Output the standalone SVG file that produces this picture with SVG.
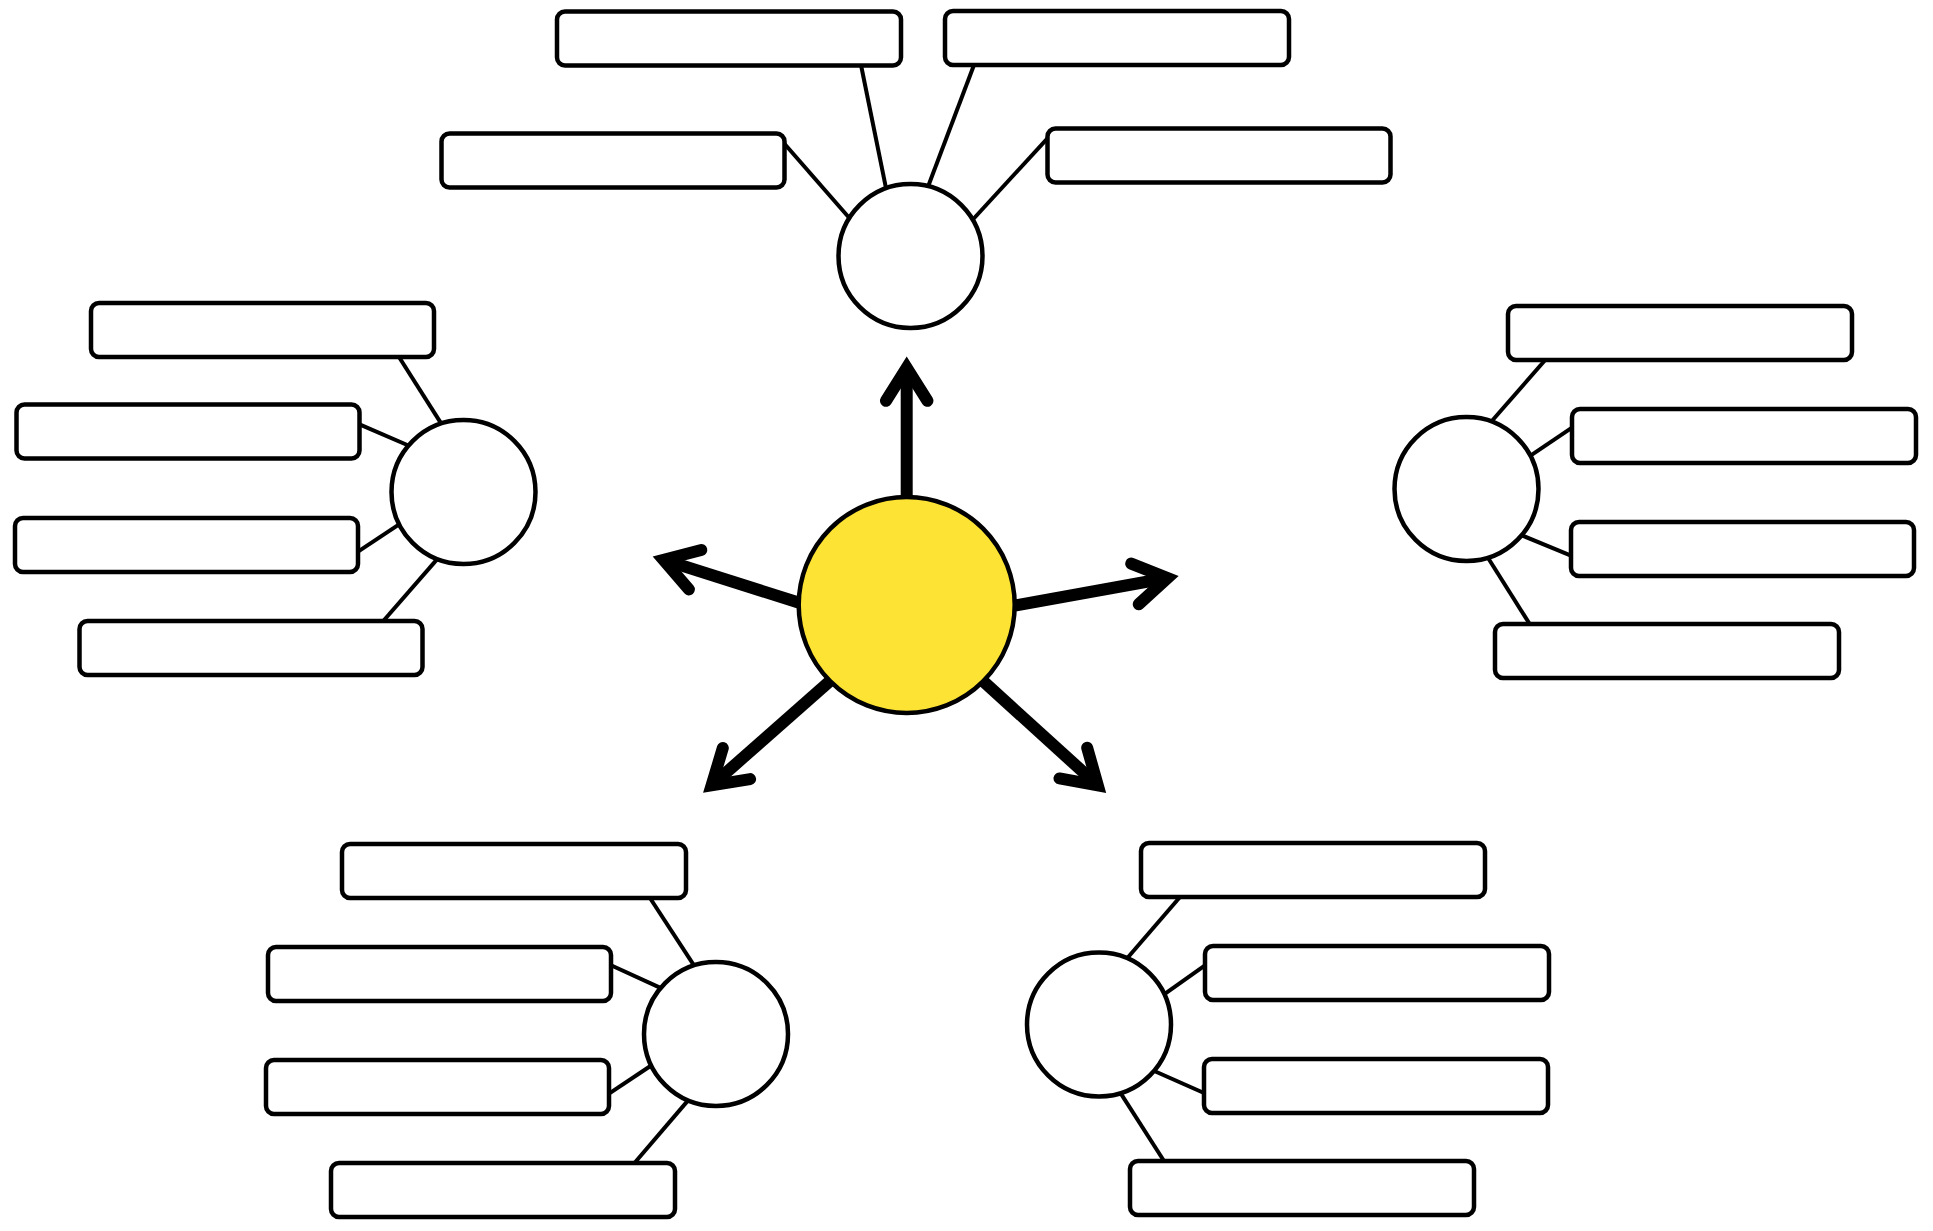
<svg xmlns="http://www.w3.org/2000/svg" width="1933" height="1231" viewBox="0 0 1933 1231">
<style>
.box{fill:#fff;stroke:#000;stroke-width:4.5}
.sat{fill:#fff;stroke:#000;stroke-width:4.5}
.hub{fill:#FDE333;stroke:#000;stroke-width:4.5}
.link{stroke:#000;stroke-width:4;fill:none;stroke-linecap:butt}
.shaft{stroke:#000;stroke-width:12;fill:none;stroke-linecap:butt}
.head{stroke:#000;stroke-width:12;fill:none;stroke-linecap:round;stroke-linejoin:miter;stroke-miterlimit:6}
</style>
<rect x="0" y="0" width="1933" height="1231" fill="#fff"/>
<g id="connectors">
  <line class="shaft" x1="906.7" y1="500" x2="906.7" y2="368"/>
  <polyline class="head" points="886,400.8 906.7,367.7 927.4,400.8"/>
  <line class="shaft" x1="1012" y1="606" x2="1167.5" y2="578"/>
  <polyline class="head" points="1131.2,563.6 1167.5,578 1138.7,604.3"/>
  <line class="shaft" x1="983" y1="681" x2="1097.8" y2="785.3"/>
  <polyline class="head" points="1087.2,747.8 1097.8,785.3 1059.5,778.4"/>
  <line class="shaft" x1="830" y1="681" x2="711.6" y2="785.4"/>
  <polyline class="head" points="750.1,779.1 711.6,785.4 722.8,748.1"/>
  <line class="shaft" x1="800" y1="603" x2="663.5" y2="559.8"/>
  <polyline class="head" points="688.9,589.4 663.5,559.8 701.3,550"/>
  <line class="link" x1="861" y1="65" x2="886" y2="188.2"/>
  <line class="link" x1="974" y1="65" x2="927.5" y2="188"/>
  <line class="link" x1="784" y1="143.3" x2="850" y2="218.7"/>
  <line class="link" x1="1047.5" y1="138.3" x2="970.6" y2="222"/>
  <line class="link" x1="399" y1="357" x2="442.7" y2="425.9"/>
  <line class="link" x1="359.5" y1="424.3" x2="411.9" y2="447"/>
  <line class="link" x1="358" y1="551.7" x2="402.5" y2="522.2"/>
  <line class="link" x1="383.3" y1="621" x2="438.3" y2="557.9"/>
  <line class="link" x1="1545.2" y1="360" x2="1490.1" y2="423"/>
  <line class="link" x1="1572" y1="427.7" x2="1527.2" y2="457.8"/>
  <line class="link" x1="1571" y1="555.7" x2="1516.4" y2="533.1"/>
  <line class="link" x1="1529.7" y1="624" x2="1485.6" y2="554"/>
  <line class="link" x1="650" y1="898" x2="695.1" y2="967.2"/>
  <line class="link" x1="611" y1="965.3" x2="663.2" y2="989.1"/>
  <line class="link" x1="609" y1="1093.7" x2="654.2" y2="1063.5"/>
  <line class="link" x1="634.5" y1="1163" x2="688.5" y2="1099.9"/>
  <line class="link" x1="1180" y1="897" x2="1125" y2="960.8"/>
  <line class="link" x1="1205" y1="965.3" x2="1160.9" y2="996.6"/>
  <line class="link" x1="1204" y1="1093" x2="1152" y2="1070"/>
  <line class="link" x1="1164" y1="1161" x2="1119.3" y2="1091.1"/>
</g>
<g id="hub"><circle class="hub" cx="906.7" cy="605" r="108"/></g>
<g id="top"><circle class="sat" cx="910.5" cy="256" r="72"/></g>
<g id="top-box1"><rect class="box" x="557" y="11.5" width="344" height="54" rx="8"/></g>
<g id="top-box2"><rect class="box" x="945" y="11" width="344" height="54" rx="8"/></g>
<g id="top-box3"><rect class="box" x="441.5" y="133.5" width="343" height="54" rx="8"/></g>
<g id="top-box4"><rect class="box" x="1047.5" y="128.5" width="343" height="54" rx="8"/></g>
<g id="left"><circle class="sat" cx="463.5" cy="492" r="72"/></g>
<g id="left-box1"><rect class="box" x="91" y="303" width="343" height="54" rx="8"/></g>
<g id="left-box2"><rect class="box" x="16.5" y="404.5" width="343" height="54" rx="8"/></g>
<g id="left-box3"><rect class="box" x="15" y="518" width="343" height="54" rx="8"/></g>
<g id="left-box4"><rect class="box" x="79.5" y="621" width="343" height="54" rx="8"/></g>
<g id="right"><circle class="sat" cx="1466.5" cy="489" r="72"/></g>
<g id="right-box1"><rect class="box" x="1508" y="306" width="344" height="54" rx="8"/></g>
<g id="right-box2"><rect class="box" x="1572" y="409" width="344" height="54" rx="8"/></g>
<g id="right-box3"><rect class="box" x="1571" y="522" width="343" height="54" rx="8"/></g>
<g id="right-box4"><rect class="box" x="1495" y="624" width="344" height="54" rx="8"/></g>
<g id="bottom-left"><circle class="sat" cx="716" cy="1034" r="72"/></g>
<g id="bl-box1"><rect class="box" x="342" y="844" width="344" height="54" rx="8"/></g>
<g id="bl-box2"><rect class="box" x="268" y="947" width="343" height="54" rx="8"/></g>
<g id="bl-box3"><rect class="box" x="266" y="1060" width="343" height="54" rx="8"/></g>
<g id="bl-box4"><rect class="box" x="331" y="1163" width="344" height="54" rx="8"/></g>
<g id="bottom-right"><circle class="sat" cx="1099" cy="1024.5" r="72"/></g>
<g id="br-box1"><rect class="box" x="1141" y="843" width="344" height="54" rx="8"/></g>
<g id="br-box2"><rect class="box" x="1205" y="946" width="344" height="54" rx="8"/></g>
<g id="br-box3"><rect class="box" x="1204" y="1059" width="344" height="54" rx="8"/></g>
<g id="br-box4"><rect class="box" x="1130" y="1161" width="344" height="54" rx="8"/></g>
</svg>
